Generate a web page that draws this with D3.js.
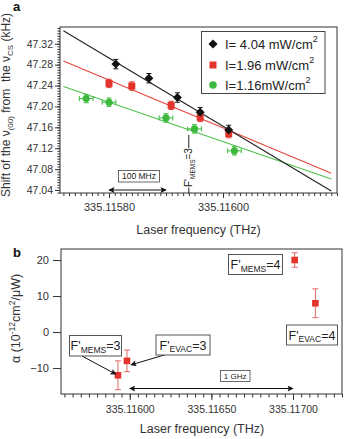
<!DOCTYPE html>
<html>
<head>
<meta charset="utf-8">
<script src="https://cdn.jsdelivr.net/npm/d3@7"></script>
<style>
  body { margin: 0; background: #fff; }
  svg { font-family: "Liberation Sans", Arial, Helvetica, sans-serif; }
  text { white-space: pre; }
</style>
</head>
<body>
<div id="chart"></div>
<script>
// ---- panel a data ----
const blackX = [335.115812, 335.11587, 335.11592, 335.11596, 335.11601];
const blackY = [47.281, 47.254, 47.217, 47.189, 47.155];
const blackErr = [0.009, 0.009, 0.009, 0.009, 0.009];

const redX = [335.1158, 335.11584, 335.115909, 335.11596, 335.11601];
const redY = [47.244, 47.239, 47.202, 47.179, 47.148];
const redErr = [0.008, 0.008, 0.008, 0.008, 0.008];

const greenX = [335.11576, 335.1158, 335.1159, 335.11595, 335.11602];
const greenY = [47.215, 47.208, 47.178, 47.157, 47.115];
const greenErr = [0.008, 0.008, 0.008, 0.008, 0.008];
const greenXErr = [0.000012, 0.000012, 0.000012, 0.000012, 0.000012];

// fitted lines (end points)
const fitX = [335.11572, 335.11619];
const fitBlack = [47.345, 47.038];
const fitRed = [47.287, 47.072];
const fitGreen = [47.238, 47.061];

const legendLabels = ["I= 4.04 mW/cm", "I=1.96 mW/cm", "I=1.16mW/cm"];

const aYTicks = [47.04, 47.08, 47.12, 47.16, 47.20, 47.24, 47.28, 47.32];
const aXTicks = [335.1158, 335.116];

// ---- panel b data ----
const bX = [335.115928, 335.115983, 335.11701, 335.117137];
const bY = [-12, -8, 20, 8];
const bErr = [4, 3, 2, 4];

const bYTicks = [-10, 0, 10, 20];
const bXTicks = [335.116, 335.1165, 335.117];

const W = 346, H = 439;
const svg = d3.select("#chart").append("svg")
    .attr("width", W).attr("height", H);

// arrow heads
const defs = svg.append("defs");
["arrowEnd", "arrowStart"].forEach(id => {
    defs.append("marker")
        .attr("id", id)
        .attr("viewBox", "0 0 10 10")
        .attr("refX", 9).attr("refY", 5)
        .attr("markerWidth", 9).attr("markerHeight", 6)
        .attr("markerUnits", "userSpaceOnUse")
        .attr("orient", id === "arrowEnd" ? "auto" : "auto-start-reverse")
        .append("path")
        .attr("d", "M0,0 L10,5 L0,10 L2,5 Z")
        .attr("fill", "#111");
});

const colBlack = "#111", colRed = "#e3342b", colGreen = "#3cb93c";
const lineRed = "#e5453c", lineGreen = "#4cc24c";

// ================= PANEL A =================
const xa = d3.scaleLinear().domain([335.115714, 335.1162]).range([60, 337]);
const ya = d3.scaleLinear().domain([47.0343, 47.352]).range([193, 27]);

const ga = svg.append("g");

// frame
ga.append("rect")
    .attr("x", 60).attr("y", 27).attr("width", 277).attr("height", 166)
    .attr("fill", "none").attr("stroke", "#333").attr("stroke-width", 1);

// y axis
ga.append("g")
    .attr("transform", "translate(60,0)")
    .call(d3.axisLeft(ya).tickValues(d3.range(47.035, 47.351, 0.005)).tickSize(2.5).tickFormat(""))
    .call(g => g.select(".domain").remove());
ga.append("g")
    .attr("transform", "translate(60,0)")
    .call(d3.axisLeft(ya).tickValues(aYTicks).tickSize(5).tickPadding(2).tickFormat(d3.format(".2f")))
    .call(g => g.select(".domain").remove())
    .call(g => g.selectAll("text").attr("font-size", 10.5).attr("fill", "#333")
        .attr("font-family", "Liberation Sans, Arial, sans-serif"));

// x axis
const aMinor = d3.range(-8, 41).map(i => 335.1158 + i * 0.00001).filter(v => v <= 335.11620001);
ga.append("g")
    .attr("transform", "translate(0,193)")
    .call(d3.axisBottom(xa).tickValues(aMinor).tickSize(3).tickFormat(""))
    .call(g => g.select(".domain").remove());
ga.append("g")
    .attr("transform", "translate(0,193)")
    .call(d3.axisBottom(xa).tickValues(aXTicks).tickSize(5).tickPadding(5).tickFormat(d3.format(".5f")))
    .call(g => g.select(".domain").remove())
    .call(g => g.selectAll("text").attr("font-size", 11).attr("fill", "#333")
        .attr("font-family", "Liberation Sans, Arial, sans-serif"));
ga.selectAll(".tick line").attr("stroke", "#333");

// fit lines
const fitLine = d3.line().x((d, i) => xa(fitX[i])).y(d => ya(d));
[[fitRed, lineRed], [fitGreen, lineGreen], [fitBlack, "#222"]].forEach(([vals, c]) => {
    ga.append("path").datum(vals)
        .attr("fill", "none").attr("stroke", c).attr("stroke-width", 1.1)
        .attr("d", fitLine);
});

// error bars + markers
function errBars(g, xs, ys, errs, xScale, yScale, color, capW) {
    xs.forEach((x, i) => {
        const cx = xScale(x), y1 = yScale(ys[i] - errs[i]), y2 = yScale(ys[i] + errs[i]);
        g.append("line").attr("x1", cx).attr("x2", cx).attr("y1", y1).attr("y2", y2)
            .attr("stroke", color).attr("stroke-width", 1);
        [y1, y2].forEach(yy => g.append("line")
            .attr("x1", cx - capW).attr("x2", cx + capW).attr("y1", yy).attr("y2", yy)
            .attr("stroke", color).attr("stroke-width", 1));
    });
}

// green horizontal error bars
greenX.forEach((x, i) => {
    const cy = ya(greenY[i]), x1 = xa(x - greenXErr[i]), x2 = xa(x + greenXErr[i]);
    ga.append("line").attr("x1", x1).attr("x2", x2).attr("y1", cy).attr("y2", cy)
        .attr("stroke", colGreen).attr("stroke-width", 1);
    [x1, x2].forEach(xx => ga.append("line")
        .attr("x1", xx).attr("x2", xx).attr("y1", cy - 2.5).attr("y2", cy + 2.5)
        .attr("stroke", colGreen).attr("stroke-width", 1));
});
errBars(ga, greenX, greenY, greenErr, xa, ya, colGreen, 2.5);
errBars(ga, redX, redY, redErr, xa, ya, colRed, 2.5);
errBars(ga, blackX, blackY, blackErr, xa, ya, colBlack, 2.5);

ga.selectAll(".gpt").data(greenX).enter().append("circle")
    .attr("cx", d => xa(d)).attr("cy", (d, i) => ya(greenY[i])).attr("r", 3.6)
    .attr("fill", colGreen);
ga.selectAll(".rpt").data(redX).enter().append("rect")
    .attr("x", d => xa(d) - 3.5).attr("y", (d, i) => ya(redY[i]) - 3.5)
    .attr("width", 7).attr("height", 7).attr("fill", colRed);
ga.selectAll(".bpt").data(blackX).enter().append("path")
    .attr("d", d3.symbol().type(d3.symbolSquare).size(40))
    .attr("transform", (d, i) => `translate(${xa(d)},${ya(blackY[i])}) rotate(45)`)
    .attr("fill", colBlack);

// legend
const leg = ga.append("g");
leg.append("rect").attr("x", 201.5).attr("y", 31.5).attr("width", 123.5).attr("height", 62)
    .attr("fill", "#fff").attr("stroke", "#444").attr("stroke-width", 1);
const legRows = [44, 65, 85];
legendLabels.forEach((lab, i) => {
    const cy = legRows[i];
    if (i === 0) {
        leg.append("path").attr("d", d3.symbol().type(d3.symbolSquare).size(42))
            .attr("transform", `translate(213,${cy}) rotate(45)`).attr("fill", colBlack);
    } else if (i === 1) {
        leg.append("rect").attr("x", 209.5).attr("y", cy - 3.5).attr("width", 7).attr("height", 7)
            .attr("fill", colRed);
    } else {
        leg.append("circle").attr("cx", 213).attr("cy", cy).attr("r", 3.8).attr("fill", colGreen);
    }
    const t = leg.append("text").attr("x", 225).attr("y", cy + 4.5)
        .attr("font-size", 13).attr("fill", "#222");
    t.append("tspan").text(lab);
    t.append("tspan").attr("font-size", 9).attr("dy", -7).text("2");
});

// 100 MHz arrow and box
ga.append("line")
    .attr("x1", xa(335.1158)).attr("x2", xa(335.1159)).attr("y1", 190).attr("y2", 190)
    .attr("stroke", "#111").attr("stroke-width", 1)
    .attr("marker-start", "url(#arrowStart)").attr("marker-end", "url(#arrowEnd)");
ga.append("rect").attr("x", 118.5).attr("y", 170.5).attr("width", 41).attr("height", 11.5)
    .attr("fill", "#fff").attr("stroke", "#444").attr("stroke-width", 0.8);
ga.append("text").attr("x", 139).attr("y", 179.3).attr("text-anchor", "middle")
    .attr("font-size", 8.5).attr("fill", "#222").text("100 MHz");

// F'MEMS=3 marker
const fx = xa(335.11594);
ga.append("line").attr("x1", fx).attr("x2", fx).attr("y1", 135).attr("y2", 148)
    .attr("stroke", "#222").attr("stroke-width", 1);
ga.append("line").attr("x1", fx).attr("x2", fx).attr("y1", 187.5).attr("y2", 193)
    .attr("stroke", "#222").attr("stroke-width", 1);
const ft = ga.append("text").attr("transform", `translate(${fx + 3.5},187) rotate(-90)`)
    .attr("font-size", 10).attr("fill", "#222");
ft.append("tspan").text("F'");
ft.append("tspan").attr("font-size", 6.5).attr("dy", 2.5).text("MEMS");
ft.append("tspan").attr("dy", -2.5).text("=3");

// labels panel a
svg.append("text").attr("x", 13).attr("y", 11).attr("font-size", 13).attr("font-weight", "bold")
    .attr("fill", "#111").text("a");
const yla = svg.append("text").attr("transform", "translate(9.5,197) rotate(-90)")
    .attr("font-size", 12).attr("fill", "#333");
yla.append("tspan").text("Shift of the ν");
yla.append("tspan").attr("font-size", 8).attr("dy", 3).text("(00)");
yla.append("tspan").attr("dy", -3).text(" from  the ν");
yla.append("tspan").attr("font-size", 8).attr("dy", 3).text("CS");
yla.append("tspan").attr("dy", -3).text(" (kHz)");
svg.append("text").attr("x", 198.5).attr("y", 234).attr("text-anchor", "middle")
    .attr("font-size", 12.5).attr("fill", "#333").text("Laser frequency (THz)");

// ================= PANEL B =================
const xb = d3.scaleLinear().domain([335.115579, 335.1173]).range([61, 342]);
const yb = d3.scaleLinear().domain([-17.2, 23.06]).range([394, 249]);

const gb = svg.append("g");
gb.append("rect")
    .attr("x", 61).attr("y", 249).attr("width", 281).attr("height", 145)
    .attr("fill", "none").attr("stroke", "#333").attr("stroke-width", 1);

gb.append("g")
    .attr("transform", "translate(61,0)")
    .call(d3.axisLeft(yb).tickValues(bYTicks).tickSize(8).tickPadding(4).tickFormat(d3.format("d")))
    .call(g => g.select(".domain").remove())
    .call(g => g.selectAll("text").attr("font-size", 11).attr("fill", "#333")
        .attr("font-family", "Liberation Sans, Arial, sans-serif"));

const bMinor = d3.range(-8, 27).map(i => 335.116 + i * 0.00005).filter(v => v >= 335.11558 && v <= 335.1173001);
gb.append("g")
    .attr("transform", "translate(0,394)")
    .call(d3.axisBottom(xb).tickValues(bMinor).tickSize(3.5).tickFormat(""))
    .call(g => g.select(".domain").remove());
gb.append("g")
    .attr("transform", "translate(0,394)")
    .call(d3.axisBottom(xb).tickValues(bXTicks).tickSize(6).tickPadding(6).tickFormat(d3.format(".5f")))
    .call(g => g.select(".domain").remove())
    .call(g => g.selectAll("text").attr("font-size", 10.5).attr("fill", "#333")
        .attr("font-family", "Liberation Sans, Arial, sans-serif"));
gb.selectAll(".tick line").attr("stroke", "#333");

errBars(gb, bX, bY, bErr, xb, yb, "#e06a60", 3);
gb.selectAll(".bp").data(bX).enter().append("rect")
    .attr("x", d => xb(d) - 3.3).attr("y", (d, i) => yb(bY[i]) - 3.3)
    .attr("width", 6.6).attr("height", 6.6).attr("fill", colRed);

// 1 GHz arrow
gb.append("line")
    .attr("x1", xb(335.116)).attr("x2", xb(335.117)).attr("y1", 388.5).attr("y2", 388.5)
    .attr("stroke", "#111").attr("stroke-width", 1)
    .attr("marker-start", "url(#arrowStart)").attr("marker-end", "url(#arrowEnd)");
gb.append("rect").attr("x", 220.5).attr("y", 370.5).attr("width", 29.5).attr("height", 11)
    .attr("fill", "#fff").attr("stroke", "#444").attr("stroke-width", 0.8);
gb.append("text").attr("x", 235.2).attr("y", 379).attr("text-anchor", "middle")
    .attr("font-size", 8).attr("fill", "#222").text("1 GHz");

// pointer arrows
gb.append("line").attr("x1", 82).attr("y1", 356).attr("x2", xb(bX[0]) - 2).attr("y2", yb(bY[0]) - 1)
    .attr("stroke", "#111").attr("stroke-width", 1).attr("marker-end", "url(#arrowEnd)");
gb.append("line").attr("x1", 166).attr("y1", 354.5).attr("x2", xb(bX[1]) + 4).attr("y2", yb(bY[1]) + 4)
    .attr("stroke", "#111").attr("stroke-width", 1).attr("marker-end", "url(#arrowEnd)");

// F' boxes
const fBoxes = [
    { sub: "MEMS", val: "=4", x: 228.5, y: 254.5, w: 54, h: 20 },
    { sub: "EVAC", val: "=4", x: 286.5, y: 325, w: 51, h: 20 },
    { sub: "MEMS", val: "=3", x: 69.5, y: 335.5, w: 52, h: 20.5 },
    { sub: "EVAC", val: "=3", x: 156, y: 335, w: 54, h: 20 }
];
fBoxes.forEach(b => {
    gb.append("rect").attr("x", b.x).attr("y", b.y).attr("width", b.w).attr("height", b.h)
        .attr("fill", "#fff").attr("stroke", "#555").attr("stroke-width", 1);
    const t = gb.append("text").attr("x", b.x + b.w / 2).attr("y", b.y + 14.5)
        .attr("text-anchor", "middle").attr("font-size", 12.5).attr("fill", "#222");
    t.append("tspan").text("F'");
    t.append("tspan").attr("font-size", 8.5).attr("dy", 2.5).text(b.sub);
    t.append("tspan").attr("dy", -2.5).text(b.val);
});

// labels panel b
svg.append("text").attr("x", 13).attr("y", 257).attr("font-size", 13).attr("font-weight", "bold")
    .attr("fill", "#111").text("b");
const ylb = svg.append("text").attr("transform", "translate(20,363) rotate(-90)")
    .attr("font-size", 12.5).attr("fill", "#333");
ylb.append("tspan").text("α (10");
ylb.append("tspan").attr("font-size", 8.5).attr("dy", -5).text("-12");
ylb.append("tspan").attr("dy", 5).text("cm");
ylb.append("tspan").attr("font-size", 8.5).attr("dy", -5).text("2");
ylb.append("tspan").attr("dy", 5).text("/μW)");
svg.append("text").attr("x", 202).attr("y", 433).attr("text-anchor", "middle")
    .attr("font-size", 12.5).attr("fill", "#333").text("Laser frequency (THz)");
</script>
</body>
</html>
